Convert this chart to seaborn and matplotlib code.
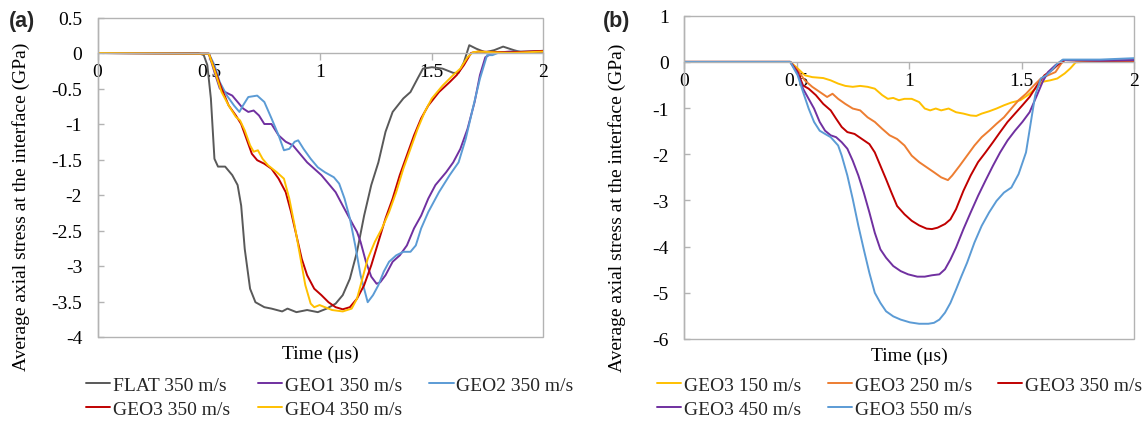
import numpy as np
import pandas as pd
import matplotlib
matplotlib.use("Agg")
import matplotlib.pyplot as plt
from matplotlib.patches import Rectangle
import seaborn as sns

# ---------------- Data ----------------
# Panel (a): different geometries at 350 m/s
flat_t = [0, 0.453, 0.477, 0.493, 0.509, 0.525, 0.541, 0.573, 0.605, 0.629, 0.645, 0.661, 0.685, 0.709,
          0.749, 0.781, 0.829, 0.853, 0.893, 0.941, 0.989, 1.029, 1.069, 1.101, 1.133, 1.165, 1.197, 1.229,
          1.261, 1.293, 1.325, 1.373, 1.405, 1.437, 1.461, 1.501, 1.549, 1.597, 1.621, 1.645, 1.669, 1.701,
          1.741, 1.781, 1.821, 1.869, 1.917, 2.0]
flat_s = [0, 0, -0.03, -0.17, -0.64, -1.49, -1.6, -1.6, -1.72, -1.86, -2.15, -2.76, -3.32, -3.51,
          -3.58, -3.6, -3.64, -3.6, -3.65, -3.62, -3.65, -3.6, -3.53, -3.41, -3.18, -2.8, -2.29, -1.86,
          -1.54, -1.11, -0.83, -0.64, -0.55, -0.36, -0.22, -0.2, -0.22, -0.28, -0.28, -0.13, 0.11, 0.06,
          0.01, 0.04, 0.09, 0.04, 0.0, 0.02]

geo1_t = [0, 0.5, 0.525, 0.549, 0.573, 0.605, 0.629, 0.653, 0.677, 0.701, 0.725, 0.749, 0.781, 0.813,
          0.845, 0.877, 0.909, 0.941, 0.973, 1.005, 1.037, 1.069, 1.101, 1.125, 1.149, 1.165, 1.181, 1.205,
          1.229, 1.253, 1.269, 1.293, 1.325, 1.357, 1.389, 1.421, 1.453, 1.485, 1.517, 1.565, 1.597, 1.629,
          1.661, 1.693, 1.717, 1.741, 1.773, 1.85, 1.93, 2.0]
geo1_s = [0, -0.01, -0.27, -0.5, -0.55, -0.6, -0.69, -0.78, -0.83, -0.81, -0.88, -1.0, -1.0, -1.16,
          -1.25, -1.3, -1.42, -1.54, -1.63, -1.72, -1.84, -1.96, -2.15, -2.29, -2.43, -2.52, -2.66, -2.94,
          -3.15, -3.25, -3.23, -3.13, -2.94, -2.85, -2.71, -2.47, -2.29, -2.05, -1.86, -1.68, -1.54, -1.35,
          -1.07, -0.69, -0.31, -0.06, 0.0, 0.02, 0.01, 0.02]

geo2_t = [0, 0.5, 0.525, 0.549, 0.581, 0.613, 0.637, 0.653, 0.677, 0.717, 0.749, 0.781, 0.813, 0.837,
          0.861, 0.885, 0.901, 0.925, 0.957, 0.989, 1.021, 1.061, 1.085, 1.109, 1.133, 1.157, 1.181, 1.213,
          1.237, 1.261, 1.285, 1.309, 1.341, 1.373, 1.405, 1.429, 1.453, 1.485, 1.533, 1.581, 1.621, 1.653,
          1.685, 1.717, 1.749, 1.773, 1.805, 1.9, 2.0]
geo2_s = [0, -0.01, -0.17, -0.41, -0.6, -0.74, -0.83, -0.74, -0.62, -0.6, -0.69, -0.92, -1.16, -1.37,
          -1.35, -1.25, -1.23, -1.35, -1.49, -1.61, -1.68, -1.75, -1.84, -2.05, -2.33, -2.71, -3.13, -3.51,
          -3.41, -3.27, -3.08, -2.94, -2.85, -2.8, -2.8, -2.71, -2.47, -2.24, -1.96, -1.72, -1.54, -1.21,
          -0.78, -0.36, -0.03, -0.03, 0.01, 0.02, 0.03]

geo3_t = [0, 0.5, 0.525, 0.557, 0.589, 0.621, 0.645, 0.669, 0.693, 0.717, 0.749, 0.781, 0.813, 0.845,
          0.869, 0.893, 0.917, 0.941, 0.973, 1.005, 1.037, 1.069, 1.101, 1.133, 1.165, 1.197, 1.229, 1.261,
          1.293, 1.325, 1.357, 1.389, 1.421, 1.453, 1.485, 1.533, 1.581, 1.613, 1.645, 1.677, 1.709, 1.85,
          2.0]
geo3_s = [0, -0.01, -0.22, -0.5, -0.74, -0.88, -1.0, -1.21, -1.42, -1.51, -1.56, -1.63, -1.77, -1.96,
          -2.24, -2.57, -2.9, -3.13, -3.32, -3.41, -3.51, -3.58, -3.61, -3.58, -3.46, -3.27, -2.99, -2.66,
          -2.33, -2.05, -1.72, -1.44, -1.16, -0.92, -0.74, -0.55, -0.41, -0.31, -0.17, 0.0, 0.02, 0.01,
          0.03]

geo4_t = [0, 0.5, 0.525, 0.557, 0.589, 0.621, 0.64, 0.661, 0.685, 0.701, 0.72, 0.741, 0.765, 0.805,
          0.837, 0.861, 0.885, 0.909, 0.933, 0.957, 0.973, 0.997, 1.021, 1.053, 1.101, 1.141, 1.165, 1.189,
          1.213, 1.245, 1.277, 1.309, 1.341, 1.373, 1.405, 1.437, 1.469, 1.501, 1.549, 1.597, 1.629, 1.661,
          1.685, 1.709, 1.85, 2.0]
geo4_s = [0, -0.01, -0.24, -0.55, -0.74, -0.9, -0.95, -1.09, -1.3, -1.39, -1.37, -1.49, -1.58, -1.68,
          -1.77, -2.05, -2.43, -2.85, -3.27, -3.53, -3.58, -3.55, -3.58, -3.62, -3.64, -3.6, -3.46, -3.18,
          -2.9, -2.66, -2.47, -2.24, -1.96, -1.63, -1.35, -1.07, -0.83, -0.64, -0.46, -0.31, -0.22, -0.06,
          0.01, 0.02, 0.0, 0.02]

# Panel (b): GEO3 at different velocities
v150_t = [0, 0.472, 0.505, 0.537, 0.57, 0.619, 0.652, 0.685, 0.717, 0.75, 0.783, 0.816, 0.848, 0.881,
          0.906, 0.93, 0.955, 0.98, 1.012, 1.045, 1.07, 1.094, 1.119, 1.143, 1.176, 1.209, 1.242, 1.274,
          1.299, 1.323, 1.356, 1.389, 1.422, 1.455, 1.495, 1.528, 1.561, 1.594, 1.627, 1.659, 1.692, 1.717,
          1.741, 1.782, 2.0]
v150_s = [0, 0, -0.14, -0.29, -0.33, -0.35, -0.4, -0.47, -0.52, -0.54, -0.52, -0.54, -0.58, -0.72,
          -0.8, -0.78, -0.83, -0.8, -0.8, -0.87, -1.01, -1.05, -1.01, -1.05, -1.01, -1.09, -1.12, -1.16,
          -1.17, -1.12, -1.07, -1.01, -0.94, -0.88, -0.83, -0.72, -0.58, -0.43, -0.4, -0.36, -0.25, -0.14,
          -0.01, 0.0, 0.0]

v250_t = [0, 0.472, 0.505, 0.537, 0.57, 0.603, 0.636, 0.66, 0.685, 0.717, 0.75, 0.783, 0.816, 0.848,
          0.881, 0.914, 0.947, 0.98, 1.012, 1.045, 1.078, 1.111, 1.143, 1.173, 1.192, 1.225, 1.258, 1.291,
          1.323, 1.356, 1.389, 1.422, 1.455, 1.487, 1.52, 1.553, 1.586, 1.618, 1.651, 1.676, 1.692, 1.8,
          2.0]
v250_s = [0, 0, -0.18, -0.4, -0.54, -0.65, -0.76, -0.69, -0.8, -0.91, -1.01, -1.05, -1.2, -1.3,
          -1.45, -1.59, -1.67, -1.81, -2.03, -2.17, -2.28, -2.39, -2.5, -2.56, -2.46, -2.25, -2.03, -1.81,
          -1.63, -1.49, -1.34, -1.2, -1.01, -0.83, -0.69, -0.52, -0.36, -0.29, -0.22, -0.04, 0.04, 0.02,
          0.02]

v350_t = [0, 0.472, 0.505, 0.529, 0.554, 0.586, 0.619, 0.652, 0.676, 0.701, 0.726, 0.758, 0.791, 0.824,
          0.848, 0.873, 0.898, 0.922, 0.947, 0.98, 1.012, 1.045, 1.078, 1.102, 1.127, 1.16, 1.184, 1.209,
          1.242, 1.274, 1.307, 1.34, 1.373, 1.405, 1.438, 1.471, 1.504, 1.536, 1.569, 1.602, 1.635, 1.667,
          1.692, 1.85, 2.0]
v350_s = [0, 0, -0.22, -0.51, -0.58, -0.72, -0.91, -1.05, -1.23, -1.41, -1.52, -1.56, -1.67, -1.78,
          -1.96, -2.25, -2.54, -2.83, -3.12, -3.3, -3.44, -3.54, -3.61, -3.62, -3.59, -3.51, -3.41, -3.19,
          -2.79, -2.46, -2.17, -1.96, -1.74, -1.52, -1.3, -1.12, -0.94, -0.76, -0.51, -0.29, -0.18, -0.04,
          0.04, 0.02, 0.03]

v450_t = [0, 0.472, 0.505, 0.529, 0.554, 0.578, 0.603, 0.627, 0.652, 0.676, 0.701, 0.726, 0.75, 0.775,
          0.799, 0.824, 0.848, 0.873, 0.898, 0.93, 0.963, 0.996, 1.037, 1.07, 1.102, 1.135, 1.16, 1.184,
          1.209, 1.242, 1.274, 1.307, 1.34, 1.373, 1.405, 1.438, 1.471, 1.504, 1.536, 1.569, 1.594, 1.618,
          1.651, 1.684, 1.85, 2.0]
v450_s = [0, 0, -0.25, -0.58, -0.8, -1.01, -1.3, -1.49, -1.59, -1.63, -1.74, -1.88, -2.14, -2.46,
          -2.83, -3.26, -3.7, -4.06, -4.24, -4.42, -4.53, -4.6, -4.65, -4.65, -4.62, -4.6, -4.49, -4.28,
          -4.02, -3.62, -3.26, -2.9, -2.57, -2.25, -1.96, -1.7, -1.49, -1.3, -1.09, -0.72, -0.43, -0.22,
          -0.07, 0.04, 0.03, 0.04]

v550_t = [0, 0.472, 0.505, 0.529, 0.554, 0.578, 0.603, 0.627, 0.652, 0.685, 0.701, 0.726, 0.75, 0.775,
          0.799, 0.824, 0.848, 0.873, 0.898, 0.93, 0.963, 1.004, 1.045, 1.086, 1.111, 1.135, 1.16, 1.184,
          1.209, 1.233, 1.258, 1.291, 1.323, 1.356, 1.389, 1.422, 1.455, 1.487, 1.52, 1.544, 1.561, 1.586,
          1.61, 1.635, 1.659, 1.684, 1.85, 1.95, 2.0]
v550_s = [0, 0, -0.29, -0.65, -1.01, -1.3, -1.49, -1.56, -1.63, -1.81, -2.03, -2.46, -2.97, -3.55,
          -4.06, -4.57, -5.0, -5.22, -5.4, -5.51, -5.58, -5.64, -5.67, -5.67, -5.65, -5.58, -5.43, -5.22,
          -4.93, -4.64, -4.35, -3.91, -3.55, -3.26, -3.01, -2.83, -2.72, -2.43, -1.96, -1.23, -0.72, -0.36,
          -0.29, -0.18, -0.04, 0.05, 0.05, 0.07, 0.08]

labels_a = ["FLAT 350 m/s", "GEO1 350 m/s", "GEO2 350 m/s", "GEO3 350 m/s", "GEO4 350 m/s"]
labels_b = ["GEO3 150 m/s", "GEO3 250 m/s", "GEO3 350 m/s", "GEO3 450 m/s", "GEO3 550 m/s"]
xticks = [0, 0.5, 1, 1.5, 2]
xticklabels = ["0", "0.5", "1", "1.5", "2"]
yticks_a = [0.5, 0, -0.5, -1, -1.5, -2, -2.5, -3, -3.5, -4]
yticklabels_a = ["0.5", "0", "-0.5", "-1", "-1.5", "-2", "-2.5", "-3", "-3.5", "-4"]
yticks_b = [1, 0, -1, -2, -3, -4, -5, -6]
yticklabels_b = ["1", "0", "-1", "-2", "-3", "-4", "-5", "-6"]

colors_a = ["#595959", "#7030A0", "#5B9BD5", "#C00000", "#FFC000"]
colors_b = ["#FFC000", "#ED7D31", "#C00000", "#7030A0", "#5B9BD5"]

# ---------------- Style ----------------
sns.set_theme(style="white")
plt.rcParams["font.family"] = ["Liberation Serif", "DejaVu Serif"]
FS = 14
GRAY = "#b3b3b3"

fig = plt.figure(figsize=(11.47, 4.27), dpi=100)
W, H = 1147, 427


def add_ax(l, r, t, b):
    return fig.add_axes([l / W, 1 - b / H, (r - l) / W, (b - t) / H])


ax_a = add_ax(97.5, 543, 18.5, 338)
ax_b = add_ax(684, 1134, 16.7, 340)


def draw(ax, series, labels, colors):
    frames = []
    for (t, s), lab in zip(series, labels):
        frames.append(pd.DataFrame({"t": t, "s": s, "series": lab}))
    df = pd.concat(frames, ignore_index=True)
    sns.lineplot(data=df, x="t", y="s", hue="series", hue_order=labels,
                 palette=dict(zip(labels, colors)), estimator=None, sort=False,
                 linewidth=1.4, ax=ax, legend=True)


def style(ax, ylim, yticks, yticklabels, ylabel_pos):
    ax.set_xlim(0, 2)
    ax.set_ylim(*ylim)
    ax.spines["bottom"].set_position(("data", 0))
    for sp in ["top", "right"]:
        ax.spines[sp].set_visible(False)
    for sp in ["bottom", "left"]:
        ax.spines[sp].set_color(GRAY)
        ax.spines[sp].set_linewidth(1.0)
    ax.add_patch(Rectangle((0, 0), 1, 1, transform=ax.transAxes, fill=False,
                           edgecolor=GRAY, linewidth=1.0, clip_on=False, zorder=0.5))
    ax.set_xticks(xticks)
    ax.set_xticklabels(xticklabels)
    ax.set_yticks(yticks)
    ax.set_yticklabels(yticklabels)
    ax.tick_params(axis="x", direction="out", length=5, width=1.0, color=GRAY,
                   pad=2, labelsize=FS, labelcolor="black", bottom=True)
    ax.tick_params(axis="y", direction="in", length=4, width=1.0, color=GRAY,
                   pad=11, labelsize=FS, labelcolor="black", left=True)
    ax.set_xlabel("Time (μs)", fontsize=FS, color="black")
    ax.xaxis.set_label_coords(0.5, -0.025)
    ax.set_ylabel("Average axial stress at the interface (GPa)", fontsize=FS, color="black")
    ax.yaxis.set_label_coords(ylabel_pos[0], ylabel_pos[1])
    ax.grid(False)
    ax.set_facecolor("white")


series_a = [(flat_t, flat_s), (geo1_t, geo1_s), (geo2_t, geo2_s), (geo3_t, geo3_s), (geo4_t, geo4_s)]
series_b = [(v150_t, v150_s), (v250_t, v250_s), (v350_t, v350_s), (v450_t, v450_s), (v550_t, v550_s)]

draw(ax_a, series_a, labels_a, colors_a)
draw(ax_b, series_b, labels_b, colors_b)

style(ax_a, (-4, 0.5), yticks_a, yticklabels_a, (-0.152, 0.41))
style(ax_b, (-6, 1), yticks_b, yticklabels_b, (-0.13, 0.41))


def make_legend(ax, labels, x_px, y_px, colspace):
    handles, labs = ax.get_legend_handles_labels()
    hmap = dict(zip(labs, handles))
    order = [labels[0], labels[3], labels[1], labels[4], labels[2]]
    ax.legend([hmap[l] for l in order], order, ncol=3, frameon=False,
              loc="upper left", bbox_to_anchor=(x_px / W, 1 - y_px / H),
              bbox_transform=fig.transFigure, fontsize=FS, handlelength=1.25,
              handletextpad=0.15, columnspacing=colspace, labelspacing=0.35,
              borderpad=0, borderaxespad=0)


make_legend(ax_a, labels_a, 86, 377, 1.4)
make_legend(ax_b, labels_b, 657, 377, 1.34)

fig.text(9 / W, 1 - 22 / H, "(a)", fontsize=15.5, fontweight="bold",
         family=["Liberation Sans", "DejaVu Sans"], va="center", ha="left")
fig.text(603 / W, 1 - 22 / H, "(b)", fontsize=15.5, fontweight="bold",
         family=["Liberation Sans", "DejaVu Sans"], va="center", ha="left")

fig.savefig("out.png", dpi=100, facecolor="white")
